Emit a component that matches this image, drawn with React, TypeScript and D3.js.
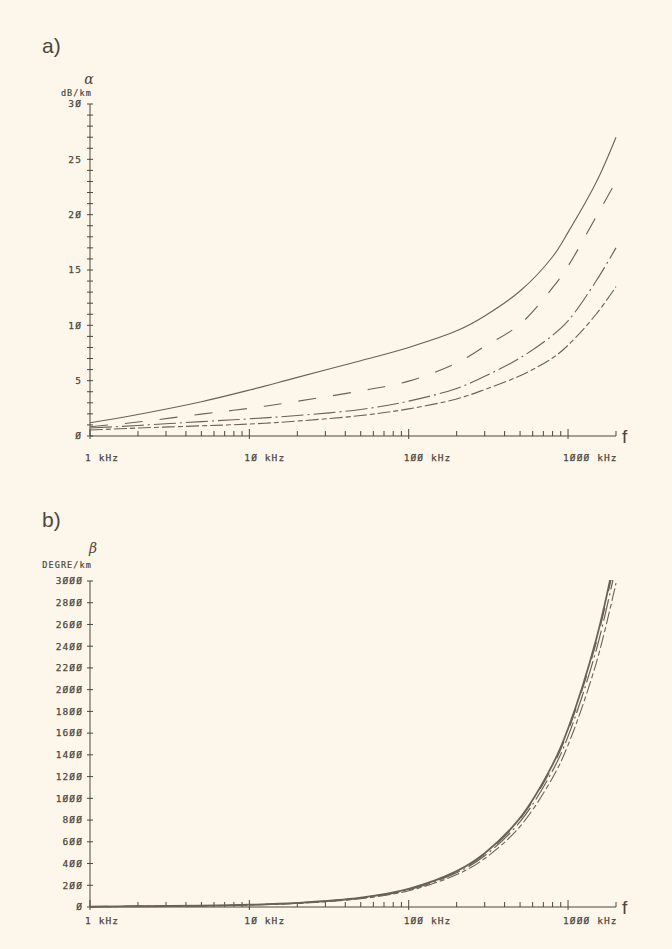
import * as d3 from 'd3'

// frequency grid (kHz) used for both panels
const freqs = [1, 2, 5, 10, 20, 50, 100, 200, 300, 500, 800, 1000, 1500, 2000]

// a) attenuation alpha, dB/km
const alphaSolid = [1.2, 1.95, 3.1, 4.15, 5.3, 6.8, 8.0, 9.5, 10.85, 13.1, 16.2, 18.4, 22.9, 27.0]
const alphaDash = [0.84, 1.26, 1.98, 2.5, 3.14, 4.08, 4.96, 6.6, 8.1, 10.1, 13.4, 15.35, 19.8, 23.0]
const alphaDashDot = [0.72, 0.95, 1.3, 1.55, 1.85, 2.4, 3.15, 4.3, 5.4, 7.05, 9.1, 10.4, 14.0, 17.0]
const alphaDashDotDot = [0.54, 0.72, 0.92, 1.08, 1.35, 1.85, 2.45, 3.35, 4.2, 5.45, 7.05, 8.2, 11.0, 13.5]

// b) phase beta, degree/km
const betaSolid = [4, 7, 12, 21, 38, 86, 167, 330, 495, 820, 1310, 1640, 2460, 3270]
const betaDash = [4, 7, 12, 20, 37, 84, 164, 326, 488, 810, 1295, 1620, 2430, 3230]
const betaDashDot = [3, 6, 11, 19, 35, 81, 158, 315, 472, 785, 1255, 1570, 2360, 3140]
const betaDashDotDot = [3, 5, 10, 18, 33, 76, 150, 298, 446, 742, 1190, 1490, 2240, 2980]

const decadeLabels = ['1 kHz', '10 kHz', '100 kHz', '1000 kHz']
const decades = [1, 10, 100, 1000]
const alphaTicks = d3.range(0, 31, 1)
const alphaLabels = [0, 5, 10, 15, 20, 25, 30]
const betaLabels = d3.range(0, 3001, 200)

const dashes = [null, '18,17', '22,4,2,4', '13,3,5,3']

const bg = '#fcf7ea',
      ink = '#4d463c',
      lineInk = '#6a6255',
      mono = '"DejaVu Sans Mono", "Liberation Mono", monospace'

const plotter = (s: string) => s.replace(/0/g, '\u00d8')

const xScale = d3.scaleLog().domain([1, 2000]).range([90, 616])
const yA = d3.scaleLinear().domain([0, 30]).range([436, 104])
const yB = d3.scaleLinear().domain([0, 3000]).range([907, 581])

const Label = ({ x, y, anchor, children }: any) => (
  <text x={x} y={y} dy='0.35em' textAnchor={anchor} fontFamily={mono}
    fontSize={9.5} letterSpacing={1.1} fill={ink} stroke={ink} strokeWidth={0.25}>
    {children}
  </text>
)

const XAxis = ({ y, labelY }: { y: number, labelY: number }) => {
  const ticks = xScale.ticks()
  return (
    <g>
      <line x1={xScale(1)} x2={xScale(2000)} y1={y} y2={y} stroke={ink} />
      {ticks.map(t => {
        const major = decades.includes(t)
        return <line key={t} x1={xScale(t)} x2={xScale(t)}
          y1={major ? y + 3 : y} y2={major ? y - 7 : y - 5} stroke={ink} />
      })}
      {decades.map((d, i) => (
        <Label key={d} x={xScale(d) - 5} y={labelY} anchor='start'>{plotter(decadeLabels[i])}</Label>
      ))}
      <text x={622} y={y + 7} fontFamily='"Liberation Sans", Arial, sans-serif'
        fontSize={19} fill={ink}>f</text>
    </g>
  )
}

const Curves = ({ series, yScale, clip, width }:
  { series: number[][], yScale: any, clip: string, width: number[] }) => {
  return series.map((vals, i) => {
    const line = d3.line<number>()
      .x((_, j) => xScale(freqs[j]))
      .y(v => yScale(v))
      .curve(d3.curveCatmullRom.alpha(0.5))
    return <path key={i} d={line(vals) || ''} fill='none' stroke={lineInk}
      strokeWidth={width[i]} strokeDasharray={dashes[i] || undefined}
      clipPath={`url(#${clip})`} />
  })
}

export default function App() {
  const [top, bottom] = yB.range()
  return (
    <div style={{ position: 'fixed', left: 0, top: 0 }}>
      <svg width={672} height={949} style={{ display: 'block', background: bg }}>
        <defs>
          <clipPath id='clipA'><rect x={90} y={yA(30) - 2} width={540} height={yA(0) - yA(30) + 4} /></clipPath>
          <clipPath id='clipB'><rect x={90} y={bottom - 1} width={540} height={top - bottom + 4} /></clipPath>
        </defs>

        {/* panel a */}
        <text x={42} y={53} fontFamily='"Liberation Sans", Arial, sans-serif' fontSize={21} fill={ink}>a)</text>
        <text x={89} y={84} textAnchor='middle' fontFamily='"DejaVu Serif", serif' fontStyle='italic' fontSize={14} fill={ink}>α</text>
        <text x={92} y={96} textAnchor='end' fontFamily={mono} fontSize={8.5} letterSpacing={1.1}
          fill={ink} stroke={ink} strokeWidth={0.2}>dB/km</text>
        <g className='axis left'>
          <line x1={90} x2={90} y1={yA(0)} y2={yA(30)} stroke={ink} />
          {alphaTicks.map(t => <line key={t} x1={87} x2={93} y1={yA(t)} y2={yA(t)} stroke={ink} />)}
          {alphaLabels.map(t => (
            <Label key={t} x={82} y={yA(t)} anchor='end'>{plotter(String(t))}</Label>
          ))}
        </g>
        <XAxis y={yA(0)} labelY={458} />
        <Curves series={[alphaSolid, alphaDash, alphaDashDot, alphaDashDotDot]} yScale={yA}
          clip='clipA' width={[1.1, 1.1, 1.1, 1.1]} />

        {/* panel b */}
        <text x={42} y={527} fontFamily='"Liberation Sans", Arial, sans-serif' fontSize={21} fill={ink}>b)</text>
        <text x={93} y={553} textAnchor='middle' fontFamily='"DejaVu Serif", serif' fontStyle='italic' fontSize={14} fill={ink}>β</text>
        <text x={92} y={568} textAnchor='end' fontFamily={mono} fontSize={8.5} letterSpacing={1.1}
          fill={ink} stroke={ink} strokeWidth={0.2}>DEGRE/km</text>
        <g className='axis left'>
          <line x1={90} x2={90} y1={yB(0)} y2={yB(3000)} stroke={ink} />
          {betaLabels.map(t => <line key={t} x1={87} x2={93} y1={yB(t)} y2={yB(t)} stroke={ink} />)}
          {betaLabels.map(t => (
            <Label key={t} x={83} y={yB(t)} anchor='end'>{plotter(String(t))}</Label>
          ))}
        </g>
        <XAxis y={yB(0)} labelY={921} />
        <Curves series={[betaSolid, betaDash, betaDashDot, betaDashDotDot]} yScale={yB}
          clip='clipB' width={[1.8, 1.3, 1.2, 1.1]} />
      </svg>
    </div>
  )
}
